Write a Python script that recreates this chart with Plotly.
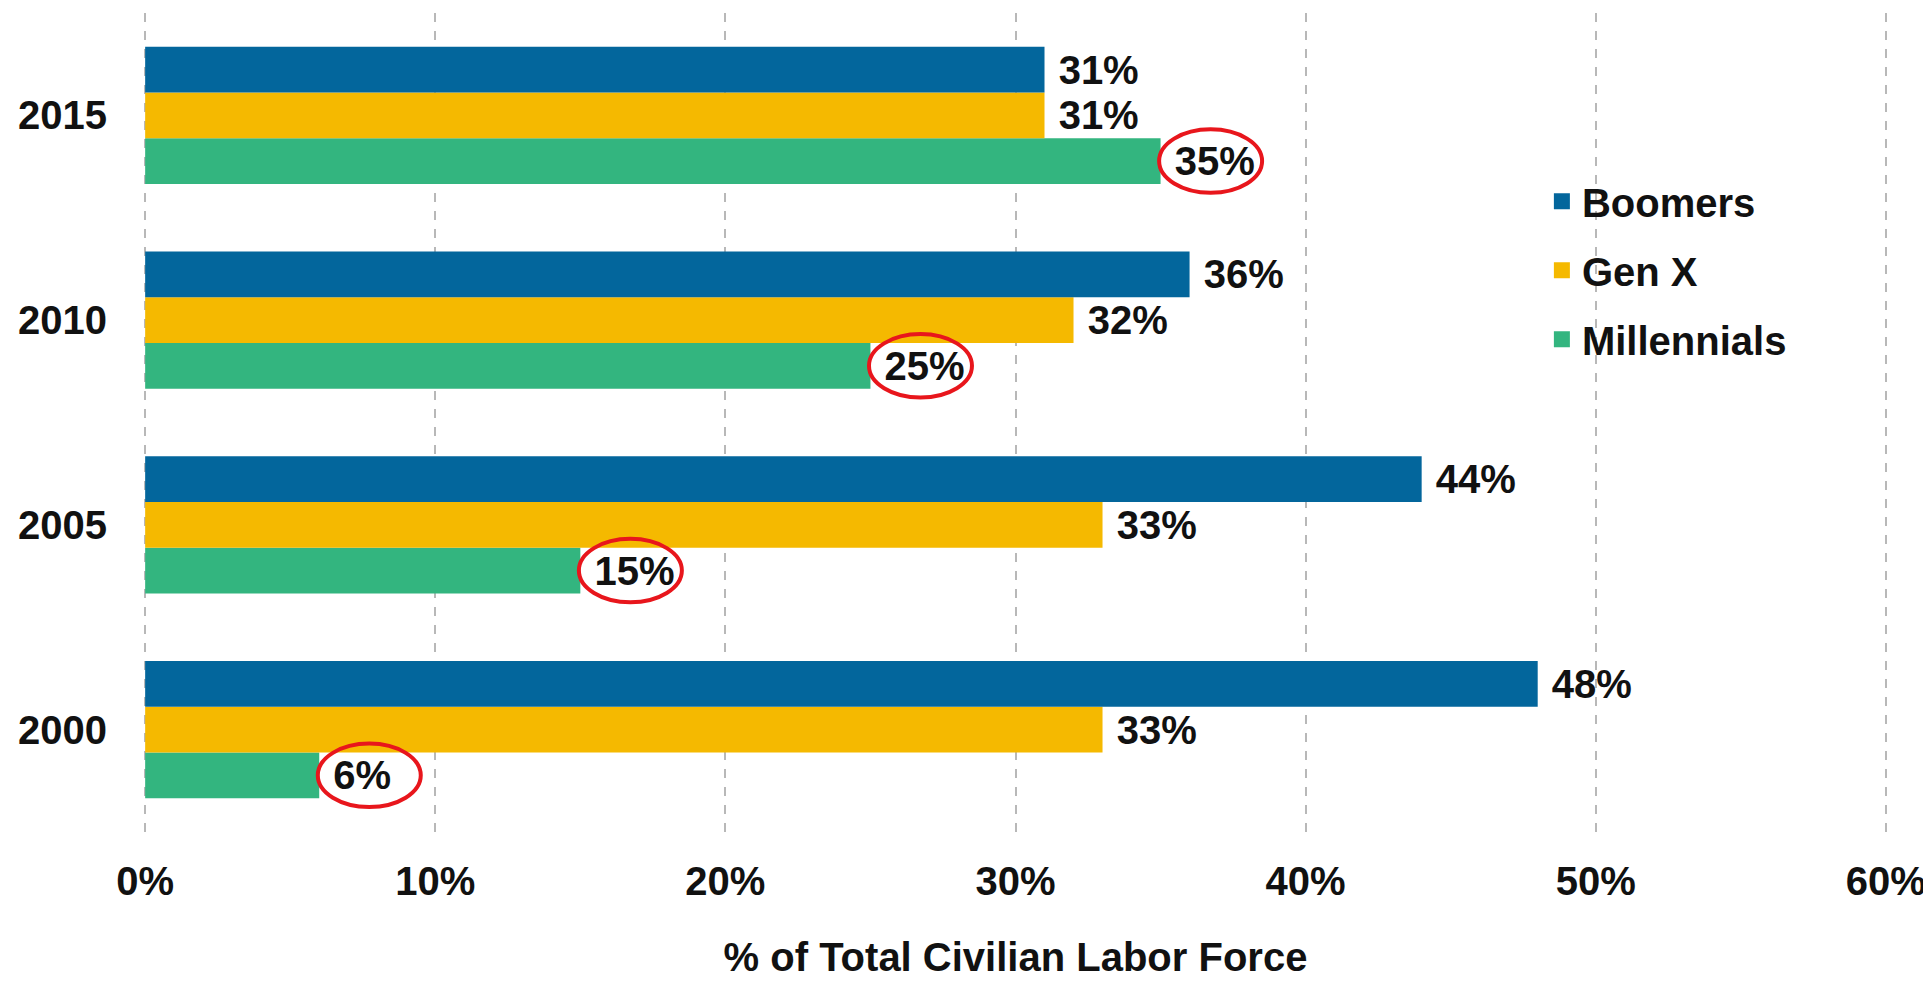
import plotly.graph_objects as go

years = ["2000", "2005", "2010", "2015"]
boomers = [48, 44, 36, 31]
genx = [33, 33, 32, 31]
millennials = [6, 15, 25, 35]
x_ticks = [0, 10, 20, 30, 40, 50, 60]
x_ticklabels = ["0%", "10%", "20%", "30%", "40%", "50%", "60%"]

series = [
    ("Millennials", millennials, "#33b57f"),
    ("Gen X", genx, "#f5b900"),
    ("Boomers", boomers, "#03669c"),
]

FONT = "Liberation Sans, Arial, sans-serif"
FS = 40
BARGAP = 0.33
INK = "#111111"

fig = go.Figure()
for name, vals, col in series:
    fig.add_trace(go.Bar(
        y=years, x=vals, orientation="h", name=name,
        marker=dict(color=col, line=dict(width=0)),
        text=[f" {v}%" for v in vals], textposition="outside",
        textfont=dict(family=FONT, size=FS, color=INK, weight="bold"),
        constraintext="none", cliponaxis=False,
        showlegend=False, hoverinfo="skip",
    ))

# legend-only entries (top to bottom: Boomers, Gen X, Millennials)
for name, vals, col in reversed(series):
    fig.add_trace(go.Scatter(
        x=[None], y=[None], mode="markers", name=name, legendgroup=name,
        marker=dict(symbol="square", size=20, color=col),
        showlegend=True,
    ))

# red ellipses around the Millennials labels
n_series = len(series)
bar_w = (1 - BARGAP) / n_series
mill_offset = -(1 - BARGAP) / 2 + bar_w / 2
for i, v in enumerate(millennials):
    yc = i + mill_offset
    fig.add_shape(type="circle", xref="x", yref="y",
                  x0=v - 0.05, x1=v + 3.5, y0=yc - 0.155, y1=yc + 0.155,
                  line=dict(color="#e8161c", width=4), layer="above")

fig.update_layout(
    width=1923, height=977,
    margin=dict(l=136, r=44, t=5, b=153, autoexpand=False),
    paper_bgcolor="white", plot_bgcolor="white",
    barmode="group", bargap=BARGAP, bargroupgap=0,
    font=dict(family=FONT, size=FS, color=INK, weight="bold"),
    legend=dict(x=0.802, xanchor="left", y=0.686, yanchor="middle",
                font=dict(family=FONT, size=FS, color=INK, weight="bold"),
                tracegroupgap=14, bgcolor="rgba(0,0,0,0)"),
    showlegend=True,
)
fig.update_xaxes(
    range=[-0.04, 60.04], tickvals=x_ticks, ticktext=x_ticklabels,
    showgrid=True, gridcolor="#b8b8b8", gridwidth=2, griddash="dash",
    zeroline=False, showline=False, ticks="", ticklabelstandoff=22,
    automargin=False,
    tickfont=dict(family=FONT, size=FS, color=INK, weight="bold"),
    title=dict(text="% of Total Civilian Labor Force", standoff=40,
               font=dict(family=FONT, size=FS, color=INK, weight="bold")),
)
fig.update_yaxes(
    type="category", categoryorder="array", categoryarray=years,
    showgrid=False, zeroline=False, showline=False, ticks="",
    ticklabelstandoff=36, automargin=False,
    tickfont=dict(family=FONT, size=FS, color=INK, weight="bold"),
)

fig.write_html("out.html")
